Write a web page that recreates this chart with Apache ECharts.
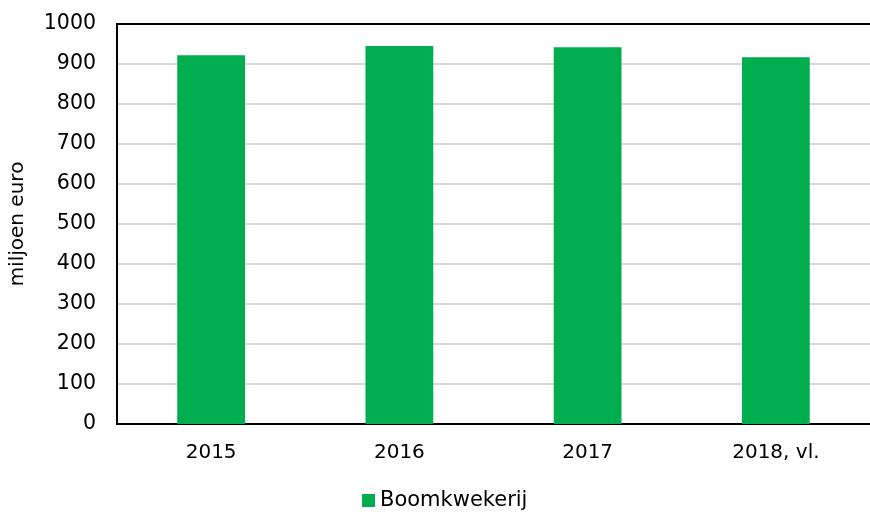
<!DOCTYPE html>
<html><head><meta charset="utf-8">
<script src="https://cdn.jsdelivr.net/npm/echarts@6/dist/echarts.min.js"></script>
<style>html,body{margin:0;padding:0;background:#fff}#c{width:870px;height:515px}</style>
</head><body><div id="c"></div>
<script>
const categories = ['2015', '2016', '2017', '2018, vl.'];
const seriesName = 'Boomkwekerij';
const values = [922, 945, 942, 917];
const yTicks = { min: 0, max: 1000, interval: 100 };

const chart = echarts.init(document.getElementById('c'), null, { renderer: 'canvas' });
const font = 'DejaVu Sans, Verdana, sans-serif';
chart.setOption({
  animation: false,
  textStyle: { fontFamily: font },
  grid: { left: 117, right: 0, top: 24, bottom: 91 },
  legend: {
    data: [seriesName], top: 485, left: 357,
    icon: 'rect', itemWidth: 13, itemHeight: 13, itemGap: 4,
    textStyle: { fontFamily: font, fontSize: 21, color: '#000', padding: [0, 0, 0, 0] }
  },
  xAxis: [{
    type: 'category', data: categories, position: 'bottom',
    axisLine: { lineStyle: { color: '#000', width: 2 } },
    axisTick: { show: false },
    axisLabel: { fontFamily: font, fontSize: 20, color: '#000', margin: 19 }
  }, {
    type: 'category', data: categories, position: 'top',
    axisLine: { lineStyle: { color: '#000', width: 2 } },
    axisTick: { show: false }, axisLabel: { show: false }
  }],
  yAxis: {
    type: 'value', min: yTicks.min, max: yTicks.max, interval: yTicks.interval,
    name: 'miljoen euro', nameLocation: 'middle', nameGap: 89, nameRotate: 90,
    nameTextStyle: { fontFamily: font, fontSize: 20, color: '#000' },
    axisLine: { show: true, lineStyle: { color: '#000', width: 2 } },
    axisTick: { show: false },
    axisLabel: { fontFamily: font, fontSize: 20.5, color: '#000', margin: 21, formatter: v => String(v) },
    splitLine: { lineStyle: { color: '#d9d9d9', width: 2 } }
  },
  series: [{
    name: seriesName, type: 'bar', data: values, barWidth: '36%',
    itemStyle: { color: '#00ae4f' }
  }]
});
</script></body></html>
